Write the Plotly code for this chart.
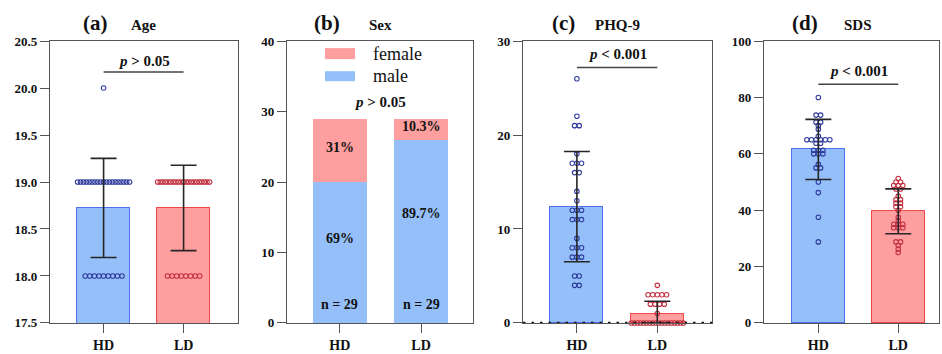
import numpy as np
import plotly.graph_objects as go

W, H = 942, 354
groups = ["HD", "LD"]

# ---------------- data ----------------
age_values = [20, 19, 18]
age_hd_counts = [1, 19, 9]
age_ld_counts = [0, 21, 8]

sex_male = [20, 26]
sex_female = [9, 3]

phq_hd = [26, 22, 21, 21, 18, 17, 17, 17, 16, 16, 14, 13, 12, 12, 12,
          11, 11, 11, 9, 8, 8, 8, 7, 7, 7, 5, 5, 4, 4]
phq_ld = [4, 3, 3, 3, 3, 3, 2, 2, 2, 2, 1,
          0, 0, 0, 0, 0, 0, 0, 0, 0, 0, 0, 0, 0, 0, 0, 0, 0, 0]

sds_hd = [80, 73.75, 73.75, 71.25, 71.25, 70, 68.75, 66.25,
          65, 65, 65, 65, 65, 65, 63.75, 63.75, 61.25, 61.25, 61.25,
          60, 60, 60, 56.25, 55, 55, 50, 46.25, 37.5, 28.75]
sds_ld = [51.25, 50, 50, 48.75, 48.75, 48.75, 47.5, 47.5, 45,
          43.75, 43.75, 42.5, 42.5, 41.25, 41.25, 40, 37.5, 36.25,
          35, 35, 35, 33.75, 33.75, 33.75, 28.75, 28.75, 27.5, 26.25, 25]

age_hd = np.repeat(age_values, age_hd_counts)
age_ld = np.repeat(age_values, age_ld_counts)

# ---------------- style ----------------
FONT = "Liberation Serif"
HD_FILL, HD_LINE, HD_DOT = "#94BFF8", "#5070F0", "#2E3A9C"
LD_FILL, LD_LINE, LD_DOT = "#FF9E9E", "#F04848", "#C23040"
AX = "#555555"

# effective drawing area observed in the renderer: 338 px tall, starting 8 px down
Y_OFF, Y_SPAN = 8.0, 338.0


def px_x(p):
    return p / W


def px_y(p):
    return 1 - (p - Y_OFF) / Y_SPAN


Y_DOM = [px_y(323), px_y(42)]
panels = [
    dict(dom=[px_x(50), px_x(238)], xr=[-0.67, 1.68], yr=[17.5, 20.5], dt=0.5, fmt=".1f"),
    dict(dom=[px_x(287), px_x(473)], xr=[-0.65, 1.64], yr=[0, 40], dt=10, fmt="d"),
    dict(dom=[px_x(523), px_x(712)], xr=[-0.67, 1.68], yr=[0, 30], dt=10, fmt="d"),
    dict(dom=[px_x(764), px_x(939)], xr=[-0.68, 1.51], yr=[0, 100], dt=20, fmt="d"),
]
PX_PER_UNIT = 80.0
BAR_W = 0.66

fig = go.Figure()
layout = dict(width=W, height=H, autosize=False, margin=dict(l=0, r=0, t=0, b=0),
              plot_bgcolor="white", paper_bgcolor="white",
              showlegend=False, barmode="stack", bargap=0)

for i, p in enumerate(panels, start=1):
    sfx = "" if i == 1 else str(i)
    layout["xaxis" + sfx] = dict(
        domain=p["dom"], range=p["xr"], anchor="y" + sfx,
        tickvals=[0, 1], ticktext=groups, ticks="outside", ticklen=9,
        tickcolor=AX, tickwidth=1.3, showline=True, linecolor=AX,
        linewidth=1.3, mirror=True, showgrid=False, zeroline=False,
        tickfont=dict(family=FONT, size=14, color="#111", weight="bold"))
    layout["yaxis" + sfx] = dict(
        domain=Y_DOM, range=p["yr"], anchor="x" + sfx, dtick=p["dt"],
        tickformat=p["fmt"], ticks="outside", ticklen=9, tickcolor=AX,
        tickwidth=1.3, showline=True, linecolor=AX, linewidth=1.3,
        mirror=True, showgrid=False, zeroline=False,
        tickfont=dict(family=FONT, size=13, color="#111", weight="bold"))


def swarm(values, center, step_px=4.6, max_px=52):
    vals = np.asarray(values, dtype=float)
    xs = np.zeros(len(vals))
    for v in np.unique(vals):
        idx = np.where(vals == v)[0]
        k = len(idx)
        step = min(step_px, max_px / (k - 1)) if k > 1 else 0
        xs[idx] = center + (np.arange(k) - (k - 1) / 2) * step / PX_PER_UNIT
    return xs


def dot_panel(i, hd, ld, ymin):
    sfx = "" if i == 1 else str(i)
    xa, ya = "x" + sfx, "y" + sfx
    means = [float(np.mean(hd)), float(np.mean(ld))]
    sds = [float(np.std(hd, ddof=1)), float(np.std(ld, ddof=1))]
    fig.add_trace(go.Bar(
        x=[0, 1], y=means, width=BAR_W, xaxis=xa, yaxis=ya,
        marker=dict(color=[HD_FILL, LD_FILL],
                    line=dict(color=[HD_LINE, LD_LINE], width=1.5))))
    for k, (vals, col) in enumerate([(hd, HD_DOT), (ld, LD_DOT)]):
        fig.add_trace(go.Scatter(
            x=swarm(vals, k), y=vals, mode="markers", xaxis=xa, yaxis=ya,
            cliponaxis=False,
            marker=dict(symbol="circle-open", size=4.5, color=col,
                        line=dict(width=1.1, color=col))))
    fig.add_trace(go.Scatter(
        x=[0, 1], y=means, mode="markers", xaxis=xa, yaxis=ya,
        marker=dict(size=1, opacity=0),
        error_y=dict(type="data", symmetric=False, array=sds,
                     arrayminus=[min(s, m - ymin) for s, m in zip(sds, means)],
                     color="#262626", thickness=1.6, width=13)))


dot_panel(1, age_hd, age_ld, 17.5)
dot_panel(3, phq_hd, phq_ld, 0)
dot_panel(4, sds_hd, sds_ld, 0)

# panel b: stacked bars
fig.add_trace(go.Bar(x=[0, 1], y=sex_male, width=BAR_W, xaxis="x2", yaxis="y2",
                     marker=dict(color=HD_FILL, line=dict(width=0)), name="male"))
fig.add_trace(go.Bar(x=[0, 1], y=sex_female, width=BAR_W, xaxis="x2", yaxis="y2",
                     marker=dict(color=LD_FILL, line=dict(width=0)), name="female"))

annotations = []
shapes = []
lab_font = dict(family=FONT, size=14, color="#111", weight="bold")
for k in range(2):
    n = sex_male[k] + sex_female[k]
    annotations.append(dict(x=k, y=sex_male[k] * 0.6, xref="x2", yref="y2",
                            text=f"{round(100 * sex_male[k] / n, 1):g}%",
                            showarrow=False, font=lab_font))
    annotations.append(dict(x=k, y=sex_male[k] + sex_female[k] / 2 + 0.4,
                            xref="x2", yref="y2",
                            text=f"{round(100 * sex_female[k] / n, 1):g}%",
                            showarrow=False, font=lab_font))
    annotations.append(dict(x=k, y=2.6, xref="x2", yref="y2", text=f"n = {n}",
                            showarrow=False, font=lab_font))

# legend for panel b
for y0, y1, col, txt in [(49, 60, LD_FILL, "female"), (72, 82, HD_FILL, "male")]:
    shapes.append(dict(type="rect", xref="paper", yref="paper",
                       x0=px_x(325), x1=px_x(355), y0=px_y(y1), y1=px_y(y0),
                       fillcolor=col, line=dict(width=0)))
    annotations.append(dict(x=px_x(371), y=px_y((y0 + y1) / 2), xref="paper",
                            yref="paper", text=txt, showarrow=False,
                            xanchor="left", yanchor="middle",
                            font=dict(family=FONT, size=18, color="#111")))

# titles
for (xl, tl), (xn, tn) in [((95, "(a)"), (143, "Age")), ((327, "(b)"), (380, "Sex")),
                           ((563, "(c)"), (617, "PHQ-9")), ((805, "(d)"), (858, "SDS"))]:
    annotations.append(dict(x=px_x(xl), y=px_y(24), xref="paper", yref="paper",
                            text=tl, showarrow=False, xanchor="center", yanchor="middle",
                            font=dict(family=FONT, size=21, color="#111", weight="bold")))
    annotations.append(dict(x=px_x(xn), y=px_y(26), xref="paper", yref="paper",
                            text=tn, showarrow=False, xanchor="center", yanchor="middle",
                            font=dict(family=FONT, size=15, color="#111", weight="bold")))

# p-values
p_font = dict(family=FONT, size=15, color="#111", weight="bold")
for sfx, ytxt, yline, txt in [("", 20.29, 20.17, "<i>p</i> > 0.05"),
                              ("2", 31.3, None, "<i>p</i> > 0.05"),
                              ("3", 28.6, 27.2, "<i>p</i> < 0.001"),
                              ("4", 89.3, 84.7, "<i>p</i> < 0.001")]:
    annotations.append(dict(x=0.5, y=ytxt, xref="x" + sfx, yref="y" + sfx,
                            text=txt, showarrow=False, yanchor="middle", font=p_font))
    if yline is not None:
        shapes.append(dict(type="line", xref="x" + sfx, yref="y" + sfx,
                           x0=0, x1=1, y0=yline, y1=yline,
                           line=dict(color="#444", width=1.5)))

# dotted zero line on PHQ-9 panel
shapes.append(dict(type="line", xref="x3 domain", yref="y3", x0=0, x1=1, y0=0, y1=0,
                   line=dict(color="#111", width=2.5, dash="2.5px,6px")))

layout["annotations"] = annotations
layout["shapes"] = shapes
fig.update_layout(**layout)

post = ("var st=document.createElement('style');"
        "st.innerHTML='html,body{margin:0!important;padding:0!important;"
        "overflow:hidden!important;width:942px;height:354px;}"
        "body>div{margin:0!important;padding:0!important;line-height:0;font-size:0;}';"
        "document.head.appendChild(st);")
fig.write_html("out.html", config=dict(responsive=False, displayModeBar=False),
               post_script=post)
